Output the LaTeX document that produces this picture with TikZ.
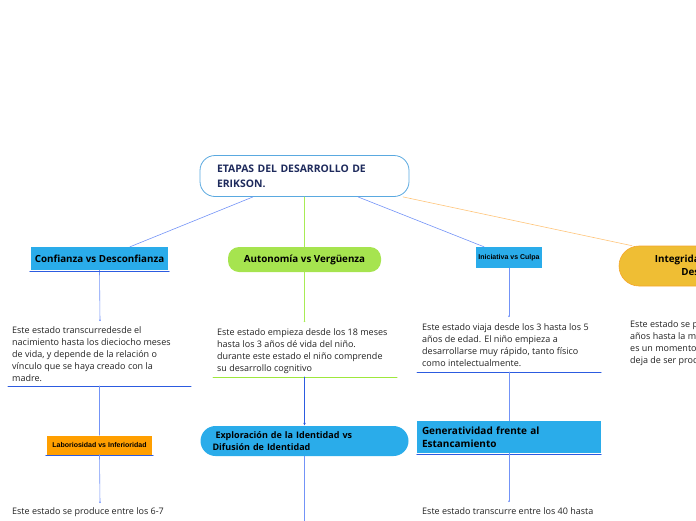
\documentclass[tikz,border=0pt]{standalone}
\usepackage{fontspec}
\setmainfont{Open Sans}
\newfontfamily\smallfont{Liberation Sans}
\usetikzlibrary{arrows.meta}

\definecolor{rootline}{HTML}{5AA9E0}
\definecolor{rootink}{HTML}{1E2A5C}
\definecolor{topiccyan}{HTML}{2AACEA}
\definecolor{topicgreen}{HTML}{A6E44F}
\definecolor{topicgold}{HTML}{EFBE34}
\definecolor{goldedge}{HTML}{F4A52A}
\definecolor{topicorange}{HTML}{FF9F00}
\definecolor{linkblue}{HTML}{7393F7}
\definecolor{linkgreen}{HTML}{A8EC55}
\definecolor{linkorange}{HTML}{FFC57A}
\definecolor{ulblue}{HTML}{2C5BE0}
\definecolor{ulgreen}{HTML}{9EE83C}
\definecolor{bodyink}{HTML}{222222}

\tikzset{
  topicbox/.style={fill=topiccyan, inner sep=0pt, text=black,
    font=\bfseries\fontsize{9.8}{12}\selectfont},
  pillbox/.style={topicbox, rounded corners=11pt},
  bodytext/.style={anchor=base west, inner sep=0pt, align=left, text=bodyink,
    font=\fontsize{9}{12}\selectfont},
  link/.style={draw=linkblue, line width=0.6pt, -{Circle[length=1.6pt]}},
  uline/.style={draw=ulblue, line width=1pt},
}

\begin{document}
\begin{tikzpicture}[x=1pt,y=-1pt,line cap=round,line join=round]
\useasboundingbox (0,0) rectangle (696,520);
\clip (0,0) rectangle (696,520);

% root
\node[draw=rootline, line width=0.8pt, fill=white, rounded corners=15pt,
      minimum width=209pt, minimum height=41pt, text width=175pt, align=left,
      inner sep=0pt, text=rootink, font=\bfseries\fontsize{10.4}{15}\selectfont]
      (root) at (304.5,176) {ETAPAS DEL DESARROLLO DE\\ERIKSON.};

% first row of stages
\node[topicbox, minimum width=137pt, minimum height=23pt] (conf) at (99.5,258.5)
      {Confianza vs Desconfianza};
\node[pillbox, fill=topicgreen, minimum width=153pt, minimum height=25pt] (auto)
      at (304.5,259.5) {Autonom\'ia vs Verg\"uenza};
\node[topicbox, minimum width=66pt, minimum height=21pt,
      font=\smallfont\bfseries\fontsize{7}{8}\selectfont] (inic) at (509,257.5)
      {Iniciativa vs Culpa};
\node[draw=goldedge, line width=0.6pt, fill=topicgold, rounded corners=20pt,
      minimum width=196pt, minimum height=40pt, inner sep=0pt, align=center,
      font=\bfseries\fontsize{9.8}{13}\selectfont] (integ) at (717,266)
      {Integridad del Yo frente a\\Desesperaci\'on};

\draw[draw=linkblue, line width=0.6pt] ([xshift=-51.5pt]root.south) -- ([xshift=30.5pt]conf.north);
\draw[draw=linkgreen, line width=0.6pt] (root.south) -- (auto.north);
\draw[draw=linkblue, line width=0.6pt] ([xshift=53.5pt]root.south) -- ([xshift=-25pt]inic.north);
\draw[draw=linkorange, line width=0.6pt] ([xshift=98.5pt]root.south) -- ([xshift=-85pt]integ.north);

% texts under the first row
\coordinate (c1) at (100,321);
\coordinate (c2) at (304.5,322);
\coordinate (c3) at (509,317);
\node[bodytext] (conftext) at (12,381)
  {Este estado transcurredesde el\\nacimiento hasta los dieciocho meses\\de vida, y depende de la relaci\'on o\\v\'inculo que se haya creado con la\\madre.};
\node[bodytext] (autotext) at (217,371)
  {Este estado empieza desde los 18 meses\\hasta los 3 a\~nos d\'e vida del ni\~no.\\durante este estado el ni\~no comprende\\su desarrollo cognitivo};
\node[bodytext] (inictext) at (422,366)
  {Este estado viaja desde los 3 hasta los 5\\a\~nos de edad. El ni\~no empieza a\\desarrollarse muy r\'apido, tanto f\'isico\\como intelectualmente.};
\node[bodytext] (integtext) at (630,363)
  {Este estado se produce desde los 60\\a\~nos hasta la muerte, y\\es un momento en que la persona\\deja de ser productiva.};

\draw[link] (conf.south) -- (c1);
\draw[link, draw=linkgreen] (auto.south) -- (c2);
\draw[link] (inic.south) -- (c3);

\coordinate (u1w) at (8,386);   \coordinate (u1e) at (191,386);
\coordinate (u2w) at (213,377); \coordinate (u2e) at (397,377);
\coordinate (u3w) at (417,372); \coordinate (u3e) at (601,372);
\draw[uline] (u1w) -- (u1e);
\draw[uline, draw=ulgreen] (u2w) -- (u2e);
\draw[uline] (u3w) -- (u3e);

% second row of stages
\node[topicbox, fill=topicorange, minimum width=105pt, minimum height=19pt,
      font=\smallfont\bfseries\fontsize{7}{8}\selectfont] (lab) at (99.5,445)
      {Laboriosidad vs Inferioridad};
\node[pillbox, rounded corners=15pt, minimum width=208pt, minimum height=30pt,
      text width=184pt, align=left, font=\bfseries\fontsize{9}{12}\selectfont]
      (expl) at (304.5,441) {\ Exploraci\'on de la Identidad vs\\Difusi\'on de Identidad};
\node[topicbox, minimum width=184pt, minimum height=32pt, text width=174pt,
      align=left, font=\bfseries\fontsize{10}{12.5}\selectfont] (gen) at (509,437)
      {Generatividad frente al\\Estancamiento};
\draw[uline] ([xshift=-1pt,yshift=-1pt]lab.south west) -- ([xshift=1pt,yshift=-1pt]lab.south east);
\draw[uline] ([xshift=-1pt,yshift=-1pt]conf.south west) -- ([xshift=1pt,yshift=-1pt]conf.south east);
\draw[uline] ([yshift=-1pt]gen.south west) -- ([yshift=-1pt]gen.south east);

\draw[link, -] (conf.south |- u1w) -- (lab.north);
\draw[draw=ulblue, line width=0.6pt, -{Latex[length=3pt,width=2.6pt]}] (auto.south |- u2w) -- (expl.north);
\draw[link, -] (inic.south |- u3w) -- (gen.north);

\coordinate (c5) at (100,503);
\coordinate (c6) at (509,502);
\coordinate (c7) at (304.5,530);
\draw[link] (lab.south) -- (c5);
\draw[link, -] (expl.south) -- (c7);
\draw[link] (gen.south) -- (c6);

\node[bodytext] (labtext) at (12,514) {Este estado se produce entre los 6-7};
\node[bodytext] (gentext) at (422,514) {Este estado transcurre entre los 40 hasta};
\end{tikzpicture}
\end{document}
